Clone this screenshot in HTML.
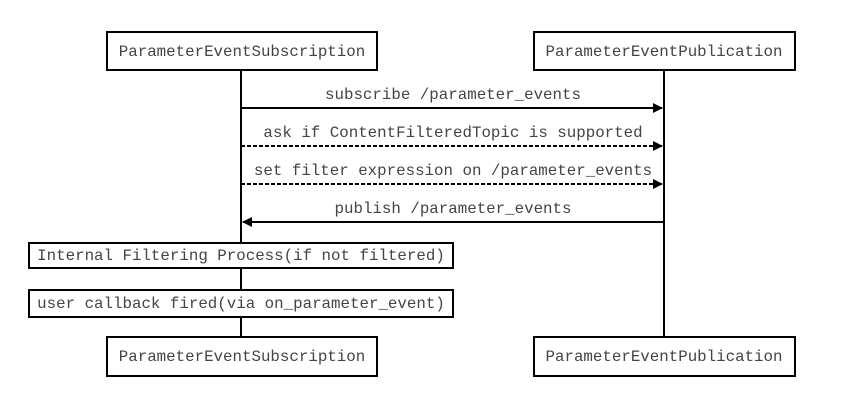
<!DOCTYPE html>
<html><head><meta charset="utf-8"><style>
body{margin:0;background:#fff}
svg{display:block}
text{font-family:"Liberation Mono","Courier New",monospace;font-size:15.8px;fill:#444}
</style></head><body>
<svg width="865" height="405" viewBox="0 0 865 405" xmlns="http://www.w3.org/2000/svg">
<defs><marker id="a" markerWidth="10" markerHeight="10" refX="9" refY="5" orient="auto" markerUnits="userSpaceOnUse"><path d="M0,0 L10,5 L0,10 z" fill="#000"/></marker></defs>
<g stroke="#000" stroke-width="2" fill="#fff">
<line x1="241" y1="70" x2="241" y2="337"/>
<line x1="664" y1="70" x2="664" y2="337"/>
<rect x="107" y="32" width="270" height="38"/>
<rect x="534" y="32" width="261" height="38"/>
<rect x="107" y="337" width="270" height="39"/>
<rect x="534" y="337" width="261" height="39"/>
<rect x="29" y="243" width="424" height="25"/>
<rect x="29" y="290" width="424" height="27"/>
<line x1="241" y1="108" x2="662" y2="108" marker-end="url(#a)"/>
<line x1="241" y1="146" x2="662" y2="146" stroke-dasharray="4,2" marker-end="url(#a)"/>
<line x1="241" y1="184" x2="662" y2="184" stroke-dasharray="4,2" marker-end="url(#a)"/>
<line x1="664" y1="222" x2="243" y2="222" marker-end="url(#a)"/>
</g>
<g text-anchor="middle">
<text x="242" y="56">ParameterEventSubscription</text>
<text x="664" y="56">ParameterEventPublication</text>
<text x="242" y="361">ParameterEventSubscription</text>
<text x="664" y="361">ParameterEventPublication</text>
<text x="241" y="260">Internal Filtering Process(if not filtered)</text>
<text x="241" y="308">user callback fired(via on_parameter_event)</text>
<text x="453" y="99">subscribe /parameter_events</text>
<text x="453" y="137">ask if ContentFilteredTopic is supported</text>
<text x="453" y="175">set filter expression on /parameter_events</text>
<text x="453" y="213">publish /parameter_events</text>
</g>
</svg>
</body></html>
